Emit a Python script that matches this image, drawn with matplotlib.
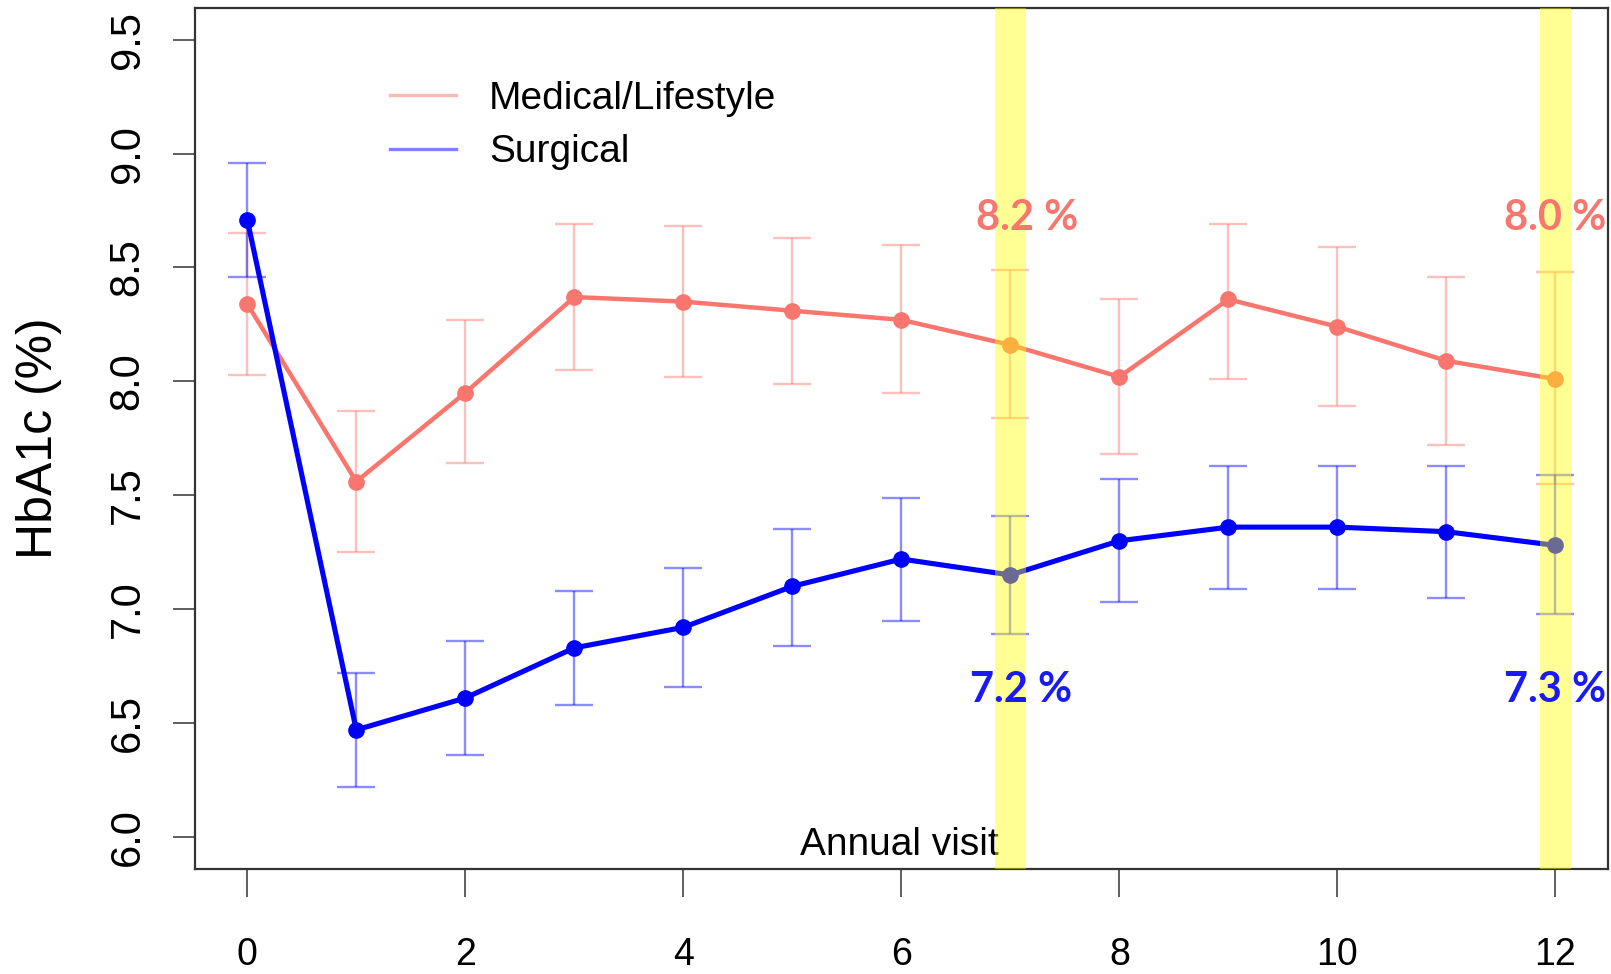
import matplotlib.pyplot as plt
from matplotlib.lines import Line2D

# ---------------------------------
# DATA
# ---------------------------------
visits = list(range(13))

medical_mean = [8.34, 7.56, 7.95, 8.37, 8.35, 8.31, 8.27, 8.16, 8.02, 8.36, 8.24, 8.09, 8.01]
medical_upper = [8.65, 7.87, 8.27, 8.69, 8.68, 8.63, 8.60, 8.49, 8.36, 8.69, 8.59, 8.46, 8.48]
medical_lower = [8.03, 7.25, 7.64, 8.05, 8.02, 7.99, 7.95, 7.84, 7.68, 8.01, 7.89, 7.72, 7.55]

surgical_mean = [8.71, 6.47, 6.61, 6.83, 6.92, 7.10, 7.22, 7.15, 7.30, 7.36, 7.36, 7.34, 7.28]
surgical_upper = [8.96, 6.72, 6.86, 7.08, 7.18, 7.35, 7.49, 7.41, 7.57, 7.63, 7.63, 7.63, 7.59]
surgical_lower = [8.46, 6.22, 6.36, 6.58, 6.66, 6.84, 6.95, 6.89, 7.03, 7.09, 7.09, 7.05, 6.98]

highlight_visits = [7, 12]
medical_labels = ["8.2 %", "8.0 %"]
surgical_labels = ["7.2 %", "7.3 %"]

x_ticks = [0, 2, 4, 6, 8, 10, 12]
y_ticks = [6.0, 6.5, 7.0, 7.5, 8.0, 8.5, 9.0, 9.5]

RED = "#F8766D"
BLUE = "#0000FF"
ARIAL = ["Liberation Sans", "DejaVu Sans"]

# ---------------------------------
# FIGURE
# ---------------------------------
fig = plt.figure(figsize=(16.11, 9.74), dpi=100)
ax = fig.add_axes([0.121, 0.108, 0.877, 0.884])

series = [
    ("Medical/Lifestyle", medical_mean, medical_upper, medical_lower, RED, 3.2),
    ("Surgical", surgical_mean, surgical_upper, surgical_lower, BLUE, 3.7),
]

handles = []
for name, mean, upper, lower, col, lw in series:
    yerr = [[m - l for m, l in zip(mean, lower)],
            [u - m for m, u in zip(mean, upper)]]
    ax.errorbar(visits, mean, yerr=yerr, fmt="none", ecolor=col, alpha=0.45,
                elinewidth=1.7, capsize=14, capthick=1.7, zorder=2)
    ax.plot(visits, mean, color=col, lw=lw, marker="o", ms=11, zorder=3)
    handles.append(Line2D([], [], color=col, alpha=0.5, lw=2.4, label=name))

# yellow highlight bands drawn over the data
for v in highlight_visits:
    ax.axvspan(v - 0.14, v + 0.14, color="yellow", alpha=0.42, lw=0, zorder=5)

# percent annotations
med_dx = [0.15, 0.0]
surg_dx = [0.10, 0.0]
for v, lab, dx in zip(highlight_visits, medical_labels, med_dx):
    ax.text(v + dx, 8.716, lab, color=RED, fontsize=30, fontweight="bold",
            family=["Lato", "DejaVu Sans"], ha="center", va="center", zorder=8)
for v, lab, dx in zip(highlight_visits, surgical_labels, surg_dx):
    ax.text(v + dx, 6.644, lab, color="#1A1AF5", fontsize=30, fontweight="bold",
            family=["Lato", "DejaVu Sans"], ha="center", va="center", zorder=8)

# "Annual visit" sits inside the box
ax.text(5.98, 5.965, "Annual visit", fontsize=28, family=ARIAL,
        ha="center", va="center", zorder=4)

ax.set_xlim(-0.48, 12.48)
ax.set_ylim(5.86, 9.64)

ax.set_xticks(x_ticks)
ax.set_xticklabels([str(t) for t in x_ticks], fontsize=27, family=ARIAL)
ax.set_yticks(y_ticks)
ax.set_yticklabels([f"{t:.1f}" for t in y_ticks], fontsize=30, family=ARIAL,
                   rotation=90, va="center")

ax.tick_params(axis="x", direction="out", length=20, width=1.2, color="#444444", pad=29)
ax.tick_params(axis="y", direction="out", length=16, width=1.2, color="#444444", pad=18)

for s in ax.spines.values():
    s.set_linewidth(1.6)
    s.set_color("#333333")

fig.text(39 / 1611, 0.55, "HbA1c (%)", rotation=90, fontsize=36, family=ARIAL,
         ha="center", va="center")

ax.legend(handles=handles, loc="upper left", bbox_to_anchor=(0.138, 0.915),
          frameon=False, handlelength=1.7, handletextpad=0.85,
          labelspacing=0.45, borderpad=0, borderaxespad=0,
          prop={"family": ARIAL, "size": 28})

fig.savefig("out.png", dpi=100)
